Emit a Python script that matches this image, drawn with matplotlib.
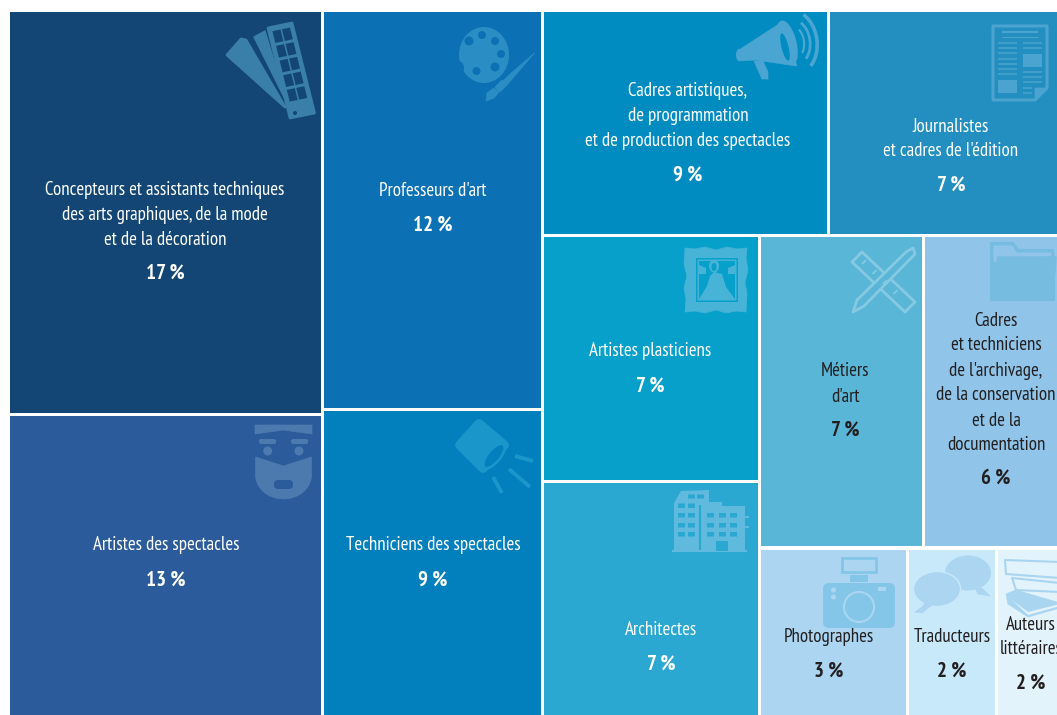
import matplotlib
matplotlib.use('Agg')
from matplotlib import pyplot as plt
from matplotlib import font_manager as fm
from matplotlib.patches import Rectangle, Polygon, Circle, Ellipse, Arc, FancyBboxPatch
import numpy as np

# police etroite si elle existe, sinon Liberation Sans plus petit
dispo = set(f.name for f in fm.fontManager.ttflist)
if 'PT Sans Narrow' in dispo:
    police, taille, taille_pct = 'PT Sans Narrow', 13.6, 15.0
elif 'Roboto Condensed' in dispo:
    police, taille, taille_pct = 'Roboto Condensed', 12.0, 13.0
else:
    police, taille, taille_pct = 'Liberation Sans', 10.0, 12.0
plt.rcParams['font.family'] = [police, 'DejaVu Sans']

# parts in percent read from the tile areas (the right edge of the picture is cut off)
noms = ["Concepteurs et assistants techniques\ndes arts graphiques, de la mode\net de la décoration",
        "Artistes des spectacles",
        "Professeurs d'art",
        "Techniciens des spectacles",
        "Cadres artistiques,\nde programmation\net de production des spectacles",
        "Journalistes\net cadres de l'édition",
        "Artistes plasticiens",
        "Architectes",
        "Métiers\nd'art",
        "Cadres\net techniciens\nde l'archivage,\nde la conservation\net de la\ndocumentation",
        "Photographes",
        "Traducteurs",
        "Auteurs\nlittéraires"]
parts = [17.1, 12.8, 11.8, 9.1, 8.7, 7.0, 7.2, 6.9, 6.9, 5.7, 3.35, 2.03, 1.42]
etiquettes = ['17 %', '13 %', '12 %', '9 %', '9 %', '7 %', '7 %', '7 %', '7 %', '6 %', '3 %', '2 %', '2 %']
couleurs = ['#134675', '#2b5b9a', '#0b71b4', '#0280bd', '#018cc1', '#238ec0', '#06a0cb',
            '#2aa8d1', '#5ab6d7', '#90c4e9', '#abd5f1', '#c8e9fa', '#e2f3fb']
texte_noir = [8, 9, 10, 11, 12]

# imbrication du treemap, colonnes puis lignes en alternance
arbre = [[0, 1], [2, 3], [[4, 5], [[6, 7], [[8, 9], [10, 11, 12]]]]]

# position des textes : x, centre du nom, centre du pourcentage
pos_textes = [(165, 214, 272), (166, 544, 579), (433, 190, 224), (433, 544, 579),
              (688, 115, 174), (951, 138, 184), (650, 350, 385), (661, 629, 663),
              (845, 383, 429), (996, 382, 477), (829, 636, 670), (952, 636, 670),
              (1031, 636, 682)]

W, H = 1057, 715
fig = plt.figure(figsize=(W / 100, H / 100), dpi=100)
ax = fig.add_axes([0, 0, 1, 1])
ax.set_xlim(0, W)
ax.set_ylim(H, 0)
ax.axis('off')


def somme(noeud):
    if isinstance(noeud, int):
        return parts[noeud]
    return sum(somme(n) for n in noeud)


def decoupe(noeud, x, y, w, h, horizontal, res):
    if isinstance(noeud, int):
        res[noeud] = (x, y, w, h)
        return
    total = somme(noeud)
    for n in noeud:
        f = somme(n) / total
        if horizontal:
            decoupe(n, x, y, w * f, h, False, res)
            x += w * f
        else:
            decoupe(n, x, y, w, h * f, True, res)
            y += h * f


tuiles = {}
decoupe(arbre, 8.5, 10.5, 1050.5, 706, True, tuiles)
ecart = 1.6
for i in range(len(parts)):
    x, y, w, h = tuiles[i]
    ax.add_patch(Rectangle((x + ecart, y + ecart), w - 2 * ecart, h - 2 * ecart,
                           fc=couleurs[i], ec='none', zorder=1))


def poly(pts, c, lw=0.5, ec=None, z=2):
    ax.add_patch(Polygon(pts, closed=True, fc=c, ec=ec or c, lw=lw, zorder=z, joinstyle='round'))


def rond(x, y, r, c):
    ax.add_patch(Circle((x, y), r, fc=c, ec='none', zorder=3))


def boite(x0, y0, x1, y1, c, r=0.0, z=2):
    ax.add_patch(FancyBboxPatch((x0 + r, y0 + r), x1 - x0 - 2 * r, y1 - y0 - 2 * r,
                                boxstyle='round,pad=%f,rounding_size=%f' % (r, r),
                                fc=c, ec='none', zorder=z))


def trait(x0, y0, x1, y1, c, lw=1.0, z=3):
    ax.plot([x0, x1], [y0, y1], color=c, lw=lw, zorder=z, solid_capstyle='butt')


# nuancier
c = '#3a7fa9'
poly([(227, 55), (241, 39), (246, 40), (285, 107)], c, lw=2)
poly([(254, 37), (265, 31), (286, 101)], c, lw=1)
coins = np.array([(268, 28), (292, 23), (314.5, 113), (290, 118)], dtype=float)
poly(coins, c, lw=2)
u = (coins[1] - coins[0]) / 24
v = (coins[3] - coins[0]) / 92
for ligne in range(5):
    for col in range(2):
        o = coins[0] + u * (3.5 + col * 9.5) + v * (4 + ligne * 15)
        poly([o, o + 8 * u, o + 8 * u + 12 * v, o + 12 * v], couleurs[0], lw=0)
rond(295, 113, 2, couleurs[0])

# palette et pinceau
c = '#2a8ec4'
fond = couleurs[2]
ax.add_patch(Ellipse((484, 55), 50, 56, fc=c, ec='none', zorder=2))
rond(456, 68, 8, fond)
for x, y, r in [(469, 41, 4.5), (482, 35, 4), (495, 41, 4), (501, 54, 4), (495, 67, 4.5), (476.5, 71, 4)]:
    rond(x, y, r, fond)
poly([(534.5, 53), (510, 74), (503, 81), (507, 85)], c)
poly([(502, 80), (507, 85), (500, 92), (495, 87)], c)
poly([(494, 88), (499, 92), (494, 98), (486, 101), (487, 93)], c)

# megaphone
c = '#4aa5d2'
fond = couleurs[4]
poly([(739, 50), (782, 22), (797, 66), (755, 60), (739, 61)], c)
ax.add_patch(Ellipse((739, 55), 6, 12, fc=c, ec='none', zorder=2))
ax.add_patch(Ellipse((787, 43), 19, 46, angle=-14, fc=c, ec='none', zorder=3))
ax.add_patch(Ellipse((785, 47), 7, 28, angle=-14, fc=fond, ec='none', zorder=4))
poly([(754, 61), (763, 61), (768, 72), (768, 79), (762, 79)], c)
for larg, haut, lw in [(18, 30, 1.6), (30, 44, 2.0), (44, 62, 2.6)]:
    ax.add_patch(Arc((795, 42), larg, haut, angle=-8, theta1=-65, theta2=65, color=c, lw=lw, zorder=3))

# journal
c = '#4ba3cf'
fond = couleurs[5]
poly([(993, 26), (1047, 26), (1047, 88), (1035, 100), (993, 100)], fond, ec=c, lw=2.2)
trait(1002, 32, 1038, 32, c, 1.6)
trait(1002, 37, 1038, 37, c, 0.8)
for y in np.arange(43, 78, 5.2):
    trait(998, y, 1017, y, c, 1.1)
for y in [43, 48]:
    trait(1023, y, 1042, y, c, 1.1)
for y in [72, 77, 82]:
    trait(1023, y, 1042, y, c, 1.1)
for y in [88, 93]:
    trait(1023, y, 1032, y, c, 1.1)
boite(1023, 54, 1042, 67, c, z=3)
boite(998, 80, 1017, 93, c, z=3)
poly([(1035, 88), (1047, 88), (1035, 100)], c)

# masque
c = '#4d7aae'
fond = couleurs[1]
poly([(255, 425), (312, 425), (312, 434), (283, 430), (255, 434)], c)
boite(259, 439, 276, 444, c, 2)
boite(291, 439, 308, 444, c, 2)
rond(267.7, 451, 4.5, c)
rond(299, 451, 4.5, c)
t = np.radians(np.arange(0, 181, 10))
bas = [(283.5 + 28 * np.cos(a), 475 + 24 * np.sin(a)) for a in t]
poly([(255.5, 457), (283.5, 466), (311.5, 457)] + bas, c)
boite(274, 480, 293, 489, fond, 4, z=3)

# projecteur
c = '#1a96ca'
fond = couleurs[3]
poly([(479, 424), (460, 445), (483, 468), (504, 445)], c, lw=7)
ax.add_patch(Ellipse((494, 456), 34, 15, angle=-50, fc=c, ec='none', zorder=2))
ax.add_patch(Ellipse((494, 456), 27, 10, angle=-50, fc=fond, ec='none', zorder=3))
trait(515, 456, 533, 461, c, 2.8)
trait(509, 469, 530, 487, c, 2.8)
trait(493, 477, 502, 493, c, 2.8)

# tableau
c = '#46b3d7'
fond = couleurs[6]
poly([(685, 248), (695, 249), (705, 247), (716, 250), (727, 247), (737, 249), (747, 248),
      (746, 258), (748, 270), (745, 282), (747, 294), (746, 312), (736, 311), (726, 313),
      (716, 310), (705, 313), (695, 311), (685, 312), (686, 300), (684, 288), (687, 276),
      (684, 264)], c)
boite(696, 258, 738, 302, fond, z=3)
boite(697.5, 259.5, 736.5, 300.5, c, z=3)
boite(699, 261, 735, 299, fond, z=3)
poly([(699, 299), (707, 286), (710, 276), (714, 272), (722, 274), (726, 287), (735, 299)], c, lw=0, z=4)
ax.add_patch(Ellipse((714, 266), 10, 13, fc=c, ec='none', zorder=4))
ax.add_patch(Ellipse((714, 267), 5, 8, fc=fond, ec='none', zorder=5))
poly([(699, 265), (706, 268), (706, 274), (699, 274)], c, lw=0, z=4)
poly([(728, 268), (735, 265), (735, 274), (728, 274)], c, lw=0, z=4)

# regle et crayon
c = '#86c9e3'
fond = couleurs[8]
poly([(852, 262), (862, 252), (915, 302), (905, 312)], fond, ec=c, lw=2, z=2)
poly([(853, 312), (857, 300), (906, 252), (913, 248), (915, 254), (864, 306)], fond, ec=c, lw=2, z=3)
for k in range(4):
    xt = 862 + k * 10.5
    yt = 264 + k * 10
    trait(xt, yt, xt + 4, yt - 4, c, 1.3)

# dossier
c = '#75bce0'
fond = couleurs[9]
poly([(991, 243), (1013, 243), (1018, 250), (1053, 250), (1054, 258), (1054, 300), (991, 300)], c, lw=1.5)
poly([(993.5, 245.5), (1012, 245.5), (1017, 252.5), (1051, 252.5), (1051, 256), (993.5, 262)], fond, lw=0)
poly([(998, 257), (1056, 257), (1053, 299), (992, 300)], c, lw=1)

# immeubles
c = '#5fbade'
fond = couleurs[7]
poly([(674, 550), (674, 503), (681, 491), (709, 490), (709, 502), (722, 502), (722, 506),
      (745, 506), (745, 550)], c, lw=0)
trait(672, 550.5, 747, 550.5, c, 1.5)
trait(700, 505, 700, 550, fond, 1.5)
trait(745, 517, 749, 517, c, 1.5)
trait(745, 527, 749, 527, c, 1.5)
for x in [678, 688]:
    for y in [503.5, 513, 523, 532]:
        boite(x, y, x + 7, y + 4.5, fond, z=3)
for x in [688, 697]:
    boite(x, 494.5, x + 7, 498.5, fond, z=3)
for x in [707, 719, 730]:
    for y in [513, 523, 532]:
        boite(x, y, x + 7, y + 4.5, fond, z=3)
boite(716, 541, 728, 551, fond, z=3)

# appareil photo
c = '#83c6e8'
fond = couleurs[10]
boite(823, 583, 895, 628, c, 6)
boite(850, 575, 868, 582, c)
ax.add_patch(Rectangle((842, 558), 34, 14, fc=fond, ec=c, lw=2, zorder=2))
ax.add_patch(Circle((859, 607), 15, fc=c, ec=fond, lw=1.5, zorder=3))
rond(833.5, 590, 2.6, fond)
rond(833.5, 597, 2.6, fond)
boite(878, 587, 886, 591, fond, z=3)

# bulles
c = '#abd5f1'
fond = couleurs[11]
ax.add_patch(Ellipse((968, 573), 46, 35, fc=c, ec='none', zorder=2))
poly([(975, 588), (982, 588), (990, 596), (978, 594)], c)
ax.add_patch(Ellipse((937, 589), 47, 35, fc=c, ec=fond, lw=1, zorder=3))
poly([(925, 603), (932, 605), (922, 613), (915, 612), (922, 607)], c, z=3)

# livres
c = '#a9d5f0'
fond = couleurs[12]
poly([(1005, 560), (1060, 562), (1060, 578), (1006, 574)], fond, ec=c, lw=1.5, z=2)
poly([(1012, 578), (1060, 583), (1060, 592), (1016, 590)], fond, ec=c, lw=1.5, z=3)
poly([(1006, 594), (1016, 590), (1060, 603), (1060, 608), (1028, 617), (1008, 604)], c, z=4)
poly([(1012, 600), (1028, 612), (1060, 604), (1060, 606), (1028, 615)], fond, lw=0, z=5)

# textes
for i in range(len(noms)):
    x, y_nom, y_pct = pos_textes[i]
    col = '#231f20' if i in texte_noir else 'white'
    ax.text(x, y_nom + 1, noms[i], color=col, fontsize=taille, ha='center', va='center',
            linespacing=1.5, zorder=6)
    ax.text(x, y_pct + 1, etiquettes[i], color=col, fontsize=taille_pct, fontweight='bold',
            ha='center', va='center', zorder=6)

plt.savefig('out.png', dpi=100, facecolor='white')
